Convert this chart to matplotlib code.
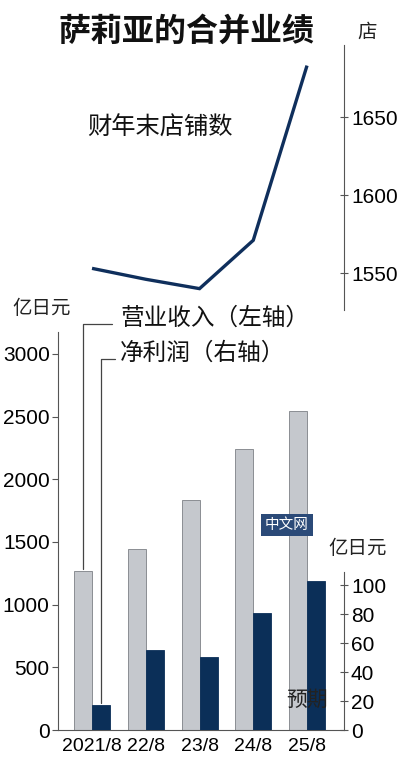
import matplotlib

matplotlib.use("Agg")
import matplotlib.pyplot as plt  # noqa: E402
import numpy as np  # noqa: E402

# data
years = ["2021/8", "22/8", "23/8", "24/8", "25/8"]
revenue = [1265, 1445, 1835, 2240, 2540]      # 营业收入, 左轴 (亿日元)
net_profit = [17, 55.5, 50.5, 81, 102.5]      # 净利润, 右轴 (亿日元)
stores = [1553, 1546, 1540, 1571, 1683]       # 财年末店铺数 (店)
left_ticks = [0, 500, 1000, 1500, 2000, 2500, 3000]
right_ticks = [0, 20, 40, 60, 80, 100]
store_ticks = [1550, 1600, 1650]

CJK = ["Noto Sans CJK SC", "DejaVu Sans"]
NUM = ["Liberation Sans", "DejaVu Sans"]
GRAY = "#c5c8cd"
NAVY = "#0b2f58"
LINE = "#0f2f5c"

W, H = 400, 770
fig = plt.figure(figsize=(W / 100, H / 100), dpi=100)


def fx(px):
    return px / W


def fy(py):
    return 1 - py / H


x = np.arange(len(years))
xlim = (-0.633, 4.688)
bw = 0.335

# ---- store count line (top) ----
axl = fig.add_axes([fx(58), fy(310), fx(344 - 58), (310 - 45) / H])
axl.plot(x, stores, color=LINE, lw=2.4, solid_capstyle="butt", solid_joinstyle="miter")
axl.set_xlim(*xlim)
axl.set_ylim(1526.3, 1696.2)
for s in ["left", "top", "bottom"]:
    axl.spines[s].set_visible(False)
axl.spines["right"].set_color("#555555")
axl.yaxis.tick_right()
axl.set_yticks(store_ticks)
axl.tick_params(axis="y", direction="inout", length=6, color="#555555", pad=2)
axl.set_xticks([])
for lab in axl.get_yticklabels():
    lab.set_family(NUM)
    lab.set_fontsize(15)
axl.patch.set_alpha(0)

# ---- revenue / profit bars (bottom) ----
ax = fig.add_axes([fx(58), fy(730), fx(344 - 58), (730 - 332) / H])
ax.bar(x - bw / 2, revenue, bw, color=GRAY, edgecolor="#7d8086", lw=0.6)
ax.set_xlim(*xlim)
ax.set_ylim(0, 3174)
ax.set_yticks(left_ticks)
ax.set_xticks(x)
ax.set_xticklabels(years, family=NUM, fontsize=14)
ax.tick_params(axis="x", length=0, pad=6)
ax.tick_params(axis="y", direction="out", length=4, color="#555555", pad=2)
for lab in ax.get_yticklabels():
    lab.set_family(NUM)
    lab.set_fontsize(15)
for s in ["top", "right"]:
    ax.spines[s].set_visible(False)
ax.spines["left"].set_color("#555555")
ax.spines["bottom"].set_color("#555555")

ax2 = ax.twinx()
ax2.bar(x + bw / 2, net_profit, bw, color=NAVY, edgecolor=NAVY, lw=0.6)
ax2.set_ylim(0, 274.5)
ax2.set_yticks(right_ticks)
ax2.spines["right"].set_bounds(0, 109)
ax2.spines["right"].set_color("#555555")
for s in ["top", "left", "bottom"]:
    ax2.spines[s].set_visible(False)
ax2.tick_params(axis="y", direction="inout", length=6, color="#555555", pad=2)
for lab in ax2.get_yticklabels():
    lab.set_family(NUM)
    lab.set_fontsize(15)

# leader lines from legend text to first bars
ax.annotate("", xy=(x[0] - bw / 2, revenue[0]), xycoords="data",
            xytext=(fx(115), fy(324)), textcoords="figure fraction",
            arrowprops=dict(arrowstyle="-", color="#444444", lw=0.9,
                            connectionstyle="angle,angleA=180,angleB=90,rad=0"))
ax2.annotate("", xy=(x[0] + bw / 2, net_profit[0]), xycoords="data",
             xytext=(fx(118), fy(359)), textcoords="figure fraction",
             arrowprops=dict(arrowstyle="-", color="#444444", lw=0.9,
                             connectionstyle="angle,angleA=180,angleB=90,rad=0"))

# ---- texts ----
fig.text(fx(186), fy(32), "萨莉亚的合并业绩", family=CJK, fontsize=23, fontweight="bold",
         ha="center", va="center", color="#111111")
fig.text(fx(367), fy(32), "店", family=CJK, fontsize=14, ha="center", va="center", color="#222222")
fig.text(fx(160), fy(128), "财年末店铺数", family=CJK, fontsize=17.5, ha="center", va="center",
         color="#111111")
fig.text(fx(42), fy(308), "亿日元", family=CJK, fontsize=14, ha="center", va="center", color="#222222")
fig.text(fx(120), fy(318), "营业收入（左轴）", family=CJK, fontsize=17, ha="left", va="center",
         color="#111111")
fig.text(fx(120), fy(353), "净利润（右轴）", family=CJK, fontsize=17, ha="left", va="center",
         color="#111111")
fig.text(fx(358), fy(548), "亿日元", family=CJK, fontsize=14, ha="center", va="center", color="#222222")
fig.text(fx(307), fy(700), "预期", family=CJK, fontsize=15, ha="center", va="center", color="#222222")
fig.text(fx(287), fy(525), "中文网", family=CJK, fontsize=10.5, ha="center", va="center", color="white",
         bbox=dict(boxstyle="square,pad=0.25", fc="#2b4a78", ec="none"))

fig.savefig("out.png", dpi=100, facecolor="white")
